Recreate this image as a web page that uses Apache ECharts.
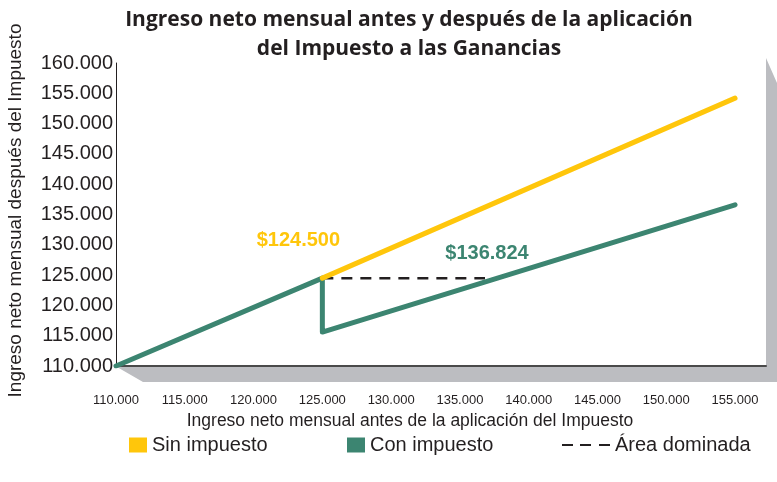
<!DOCTYPE html>
<html>
<head>
<meta charset="utf-8">
<script src="https://cdn.jsdelivr.net/npm/echarts@6/dist/echarts.min.js"></script>
<style>
  html, body { margin: 0; padding: 0; background: #fff; }
  #chart { width: 777px; height: 482px; }
</style>
</head>
<body>
<div id="chart"></div>
<script>
  // datos
  var xTicks = [110000, 115000, 120000, 125000, 130000, 135000, 140000, 145000, 150000, 155000];
  var sinImpuesto = [[125000, 124500], [155000, 154200]];
  var conImpuesto = [[110000, 110000], [125000, 124500], [125000, 115600], [155000, 136600]];
  var areaDominada = [[125000, 124500], [136824, 124500]];

  var amarillo = "#ffc60b";
  var verde = "#3c8571";
  var texto = "#231f20";
  var fuente = "Liberation Sans";

  function miles(v) {
    return String(Math.round(v)).replace(/\B(?=(\d{3})+(?!\d))/g, ".");
  }

  // etiqueta de valor sobre un punto (marcador invisible)
  function etiqueta(coord, txt, color, offset) {
    return {
      symbol: "circle",
      symbolSize: 1,
      itemStyle: { color: "rgba(0,0,0,0)" },
      data: [{
        coord: coord,
        label: {
          show: true,
          formatter: txt,
          offset: offset,
          fontFamily: fuente,
          fontWeight: "bold",
          fontSize: 20,
          color: color
        }
      }]
    };
  }

  var chart = echarts.init(document.getElementById("chart"));

  var option = {
    animation: false,
    title: {
      text: "Ingreso neto mensual antes y después de la aplicación\ndel Impuesto a las Ganancias",
      left: 404,
      top: 1,
      textAlign: "center",
      textStyle: {
        fontFamily: "Open Sans",
        fontWeight: "bold",
        fontSize: 21,
        lineHeight: 29,
        color: texto
      }
    },
    graphic: [{
      // sombra del área de trazado
      type: "polygon",
      z: -1,
      shape: {
        points: [[117, 367], [143, 382], [777, 382], [777, 83], [766, 58], [766, 367]]
      },
      style: { fill: "#bcbdc1" }
    }],
    legend: [{
      data: ["Sin impuesto"],
      left: 124, top: 430,
      icon: "rect", itemWidth: 18, itemHeight: 15, itemGap: 10,
      textStyle: { fontFamily: fuente, fontSize: 20, color: texto }
    }, {
      data: ["Con impuesto"],
      left: 342, top: 430,
      icon: "rect", itemWidth: 18, itemHeight: 15, itemGap: 10,
      textStyle: { fontFamily: fuente, fontSize: 20, color: texto }
    }, {
      data: ["Área dominada"],
      left: 557, top: 430,
      icon: "path://M0,0h11v2h-11z M18,0h11v2h-11z M37,0h11v2h-11z",
      itemWidth: 48, itemHeight: 2, itemGap: 14,
      textStyle: { fontFamily: fuente, fontSize: 20, color: texto }
    }],
    grid: {
      left: 116,
      right: 11,
      top: 63,
      bottom: 116,
      outerBoundsMode: "none",
      show: true,
      backgroundColor: "#fff",
      borderWidth: 0
    },
    xAxis: {
      type: "value",
      min: xTicks[0],
      max: 157250,
      interval: 5000,
      name: "Ingreso neto mensual antes de la aplicación del Impuesto",
      nameLocation: "middle",
      nameGap: 46,
      nameTextStyle: {
        fontFamily: fuente,
        fontSize: 17.5,
        color: texto,
        padding: [0, 62, 0, 0]
      },
      axisLine: { lineStyle: { color: "#4a4a4a", width: 2 } },
      axisTick: { show: false },
      splitLine: { show: false },
      axisLabel: {
        showMaxLabel: false,
        margin: 28,
        fontFamily: fuente,
        fontSize: 13,
        color: texto,
        formatter: function (v) { return xTicks.indexOf(v) >= 0 ? miles(v) : ""; }
      }
    },
    yAxis: {
      type: "value",
      min: 110000,
      max: 160000,
      interval: 5000,
      name: "Ingreso neto mensual después del Impuesto",
      nameLocation: "middle",
      nameGap: 91,
      nameRotate: 90,
      nameTextStyle: {
        fontFamily: fuente,
        fontSize: 19,
        color: texto,
        padding: [0, 0, 0, 8]
      },
      axisLine: { show: true, lineStyle: { color: "#231f20", width: 1 } },
      axisTick: { show: false },
      splitLine: { show: false },
      axisLabel: {
        margin: 3,
        fontFamily: fuente,
        fontSize: 20,
        color: texto,
        formatter: miles
      }
    },
    series: [{
      name: "Sin impuesto",
      type: "line",
      data: sinImpuesto,
      symbol: "none",
      z: 3,
      itemStyle: { color: amarillo },
      lineStyle: { color: amarillo, width: 5, cap: "round" },
      markPoint: etiqueta(sinImpuesto[0], "$" + miles(sinImpuesto[0][1]), amarillo, [-24, -38])
    }, {
      name: "Con impuesto",
      type: "line",
      data: conImpuesto,
      symbol: "none",
      z: 2,
      itemStyle: { color: verde },
      lineStyle: { color: verde, width: 5, cap: "round", join: "round" }
    }, {
      name: "Área dominada",
      type: "line",
      data: areaDominada,
      symbol: "none",
      z: 1,
      itemStyle: { color: "#231f20" },
      lineStyle: { color: "#231f20", width: 2.5, type: [11, 8] },
      markPoint: etiqueta(areaDominada[1], "$" + miles(areaDominada[1][0]), verde, [2, -25])
    }]
  };

  chart.setOption(option);
</script>
</body>
</html>
